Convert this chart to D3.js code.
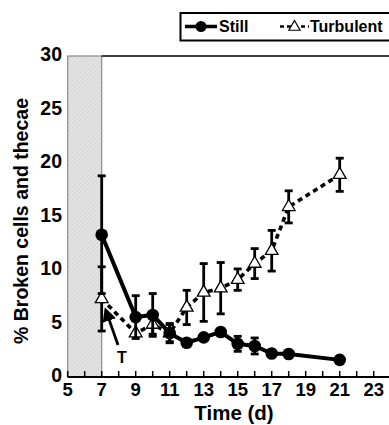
<!DOCTYPE html>
<html>
<head>
<meta charset="utf-8">
<script src="https://cdn.jsdelivr.net/npm/d3@7"></script>
<style>
  body { margin: 0; background: #fff; }
  text { font-family: "Liberation Sans", Arial, sans-serif; font-weight: bold; fill: #000; }
</style>
</head>
<body>
<svg width="389" height="425"></svg>
<script>
// days sampled
const stillDays = [7, 9, 10, 11, 12, 13, 14, 15, 16, 17, 18, 21];
const stillMean = [13.3, 5.6, 5.8, 4.1, 3.2, 3.7, 4.2, 3.1, 2.9, 2.2, 2.15, 1.6];
const stillErr  = [5.5, 2.0, 2.0, 0.9, 0, 0, 0, 0.7, 0.75, 0, 0, 0];

const turbDays = [7, 9, 10, 11, 12, 13, 14, 15, 16, 17, 18, 21];
const turbMean = [7.3, 4.1, 4.9, 4.1, 6.5, 7.9, 8.3, 9.1, 10.6, 11.8, 15.9, 18.9];
const turbErr  = [3.0, 0, 0.9, 0.8, 1.6, 2.7, 2.4, 1.0, 1.4, 1.9, 1.5, 1.55];

const yTicks = [0, 5, 10, 15, 20, 25, 30];
const xLabels = [5, 7, 9, 11, 13, 15, 17, 19, 21, 23];

const svg = d3.select("svg");

const x = d3.scaleLinear().domain([5, 24]).range([67.7, 390.7]);
const y = d3.scaleLinear().domain([0, 30]).range([377, 56]);

// hatched region before day 7
const defs = svg.append("defs");
const pat = defs.append("pattern")
    .attr("id", "hatch")
    .attr("patternUnits", "userSpaceOnUse")
    .attr("width", 3).attr("height", 3)
    .attr("patternTransform", "rotate(45)");
pat.append("rect").attr("width", 3).attr("height", 3).attr("fill", "#e4e4e4");
pat.append("line").attr("x1", 0).attr("y1", 0).attr("x2", 0).attr("y2", 3)
    .attr("stroke", "#c4c4c4").attr("stroke-width", 1);

svg.append("rect")
    .attr("x", x(5)).attr("y", y(30))
    .attr("width", x(7) - x(5)).attr("height", y(0) - y(30))
    .attr("fill", "url(#hatch)")
    .attr("stroke", "#8a8a8a").attr("stroke-width", 1.2);

// top frame line
svg.append("line")
    .attr("x1", x(7)).attr("x2", 389)
    .attr("y1", y(30)).attr("y2", y(30))
    .attr("stroke", "#000").attr("stroke-width", 1.5);

// x axis
svg.append("line")
    .attr("x1", x(5)).attr("x2", 389)
    .attr("y1", y(0)).attr("y2", y(0))
    .attr("stroke", "#000").attr("stroke-width", 2);

svg.selectAll(".xtick")
    .data(d3.range(5, 24))
    .enter().append("line")
    .attr("x1", d => x(d)).attr("x2", d => x(d))
    .attr("y1", y(0)).attr("y2", y(0) - 6)
    .attr("stroke", "#000").attr("stroke-width", 1.5);

svg.selectAll(".xlab")
    .data(xLabels)
    .enter().append("text")
    .attr("x", d => x(d)).attr("y", 396)
    .attr("text-anchor", "middle")
    .attr("font-size", 18.5)
    .text(d => d);

svg.selectAll(".ylab")
    .data(yTicks)
    .enter().append("text")
    .attr("x", 62).attr("y", d => y(d) - 1.5)
    .attr("dy", "0.35em")
    .attr("text-anchor", "end")
    .attr("font-size", 19.5)
    .text(d => d);

svg.append("text")
    .attr("transform", "translate(27.5,221) rotate(-90)")
    .attr("text-anchor", "middle")
    .attr("font-size", 19.5)
    .text("% Broken cells and thecae");

svg.append("text")
    .attr("x", 234).attr("y", 420)
    .attr("text-anchor", "middle")
    .attr("font-size", 20.5)
    .text("Time (d)");

const still = stillDays.map((d, i) => ({ d, m: stillMean[i], e: stillErr[i] }));
const turb = turbDays.map((d, i) => ({ d, m: turbMean[i], e: turbErr[i] }));

function errorBars(data) {
    const g = svg.append("g").attr("stroke", "#000").attr("stroke-width", 2.8);
    const bars = data.filter(p => p.e > 0);
    g.selectAll(".v").data(bars).enter().append("line")
        .attr("x1", p => x(p.d)).attr("x2", p => x(p.d))
        .attr("y1", p => y(p.m + p.e)).attr("y2", p => y(p.m - p.e));
    [1, -1].forEach(s => {
        g.selectAll(".c" + s).data(bars).enter().append("line")
            .attr("x1", p => x(p.d) - 4).attr("x2", p => x(p.d) + 4)
            .attr("y1", p => y(p.m + s * p.e)).attr("y2", p => y(p.m + s * p.e));
    });
}

const line = d3.line().x(p => x(p.d)).y(p => y(p.m));

// turbulent series
svg.append("path").datum(turb)
    .attr("d", line)
    .attr("fill", "none").attr("stroke", "#000")
    .attr("stroke-width", 3.6).attr("stroke-dasharray", "5,4");
errorBars(turb);
const tri = d3.symbol().type(d3.symbolTriangle).size(70);
svg.selectAll(".tri").data(turb).enter().append("path")
    .attr("d", tri)
    .attr("transform", p => `translate(${x(p.d)},${y(p.m)})`)
    .attr("fill", "#fff").attr("stroke", "#000").attr("stroke-width", 1.3);

// still series
svg.append("path").datum(still)
    .attr("d", line)
    .attr("fill", "none").attr("stroke", "#000").attr("stroke-width", 4);
errorBars(still);
svg.selectAll(".dot").data(still).enter().append("circle")
    .attr("cx", p => x(p.d)).attr("cy", p => y(p.m)).attr("r", 6.3)
    .attr("fill", "#000");

// T arrow
defs.append("marker")
    .attr("id", "arr").attr("viewBox", "0 0 10 10")
    .attr("refX", 8).attr("refY", 5)
    .attr("markerWidth", 5).attr("markerHeight", 5)
    .attr("orient", "auto")
    .append("path").attr("d", "M0,0 L10,5 L0,10 Z").attr("fill", "#000");
svg.append("line")
    .attr("x1", 118).attr("y1", 345)
    .attr("x2", x(7) + 4).attr("y2", y(7.3) + 11)
    .attr("stroke", "#000").attr("stroke-width", 2.8)
    .attr("marker-end", "url(#arr)");
svg.append("text")
    .attr("x", 122).attr("y", 363)
    .attr("text-anchor", "middle")
    .attr("font-size", 16)
    .text("T");

// legend
const lg = svg.append("g");
lg.append("rect")
    .attr("x", 180.5).attr("y", 13).attr("width", 215).attr("height", 27.5)
    .attr("fill", "#fff").attr("stroke", "#000").attr("stroke-width", 2);
lg.append("line").attr("x1", 185).attr("x2", 217).attr("y1", 26.5).attr("y2", 26.5)
    .attr("stroke", "#000").attr("stroke-width", 3.5);
lg.append("circle").attr("cx", 201).attr("cy", 26.5).attr("r", 5.5).attr("fill", "#000");
lg.append("text").attr("x", 219).attr("y", 32).attr("font-size", 16).text("Still");
lg.append("line").attr("x1", 280).attr("x2", 309).attr("y1", 26.5).attr("y2", 26.5)
    .attr("stroke", "#000").attr("stroke-width", 2.5).attr("stroke-dasharray", "4,3");
lg.append("path").attr("d", d3.symbol().type(d3.symbolTriangle).size(55))
    .attr("transform", "translate(294.5,27)")
    .attr("fill", "#fff").attr("stroke", "#000").attr("stroke-width", 1.2);
lg.append("text").attr("x", 310).attr("y", 32).attr("font-size", 16).text("Turbulent");
</script>
</body>
</html>
